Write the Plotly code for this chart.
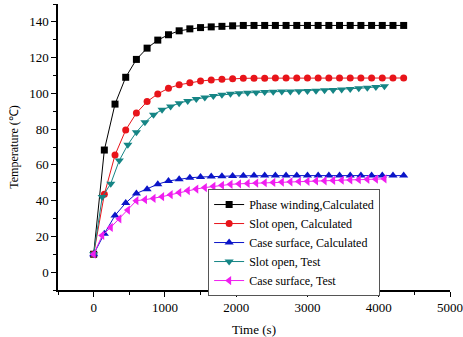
import plotly.graph_objects as go

# Time axes (s)
t_calc = [i * 150 for i in range(30)]   # 0 .. 4350
t_test = [i * 120 for i in range(35)]   # 0 .. 4080

phase_winding_calc = [10, 68.3, 94, 109, 119, 125.3, 129.8, 132.8, 135, 136.1,
                      136.8, 137.2, 137.5, 137.8, 138, 138, 138, 138, 138, 138,
                      138, 138, 138, 138, 138, 138, 138, 138, 138, 138]
slot_open_calc = [10, 43.5, 65.5, 79.5, 89, 95.4, 99.7, 102.9, 104.8, 106,
                  106.9, 107.5, 107.9, 108.2, 108.4, 108.5, 108.5, 108.6, 108.6, 108.6,
                  108.6, 108.6, 108.6, 108.6, 108.6, 108.6, 108.6, 108.6, 108.6, 108.6]
case_surface_calc = [10, 21.5, 31.7, 38.7, 44, 46.4, 49.2, 51, 52, 52.8,
                     53.2, 53.5, 53.7, 53.8, 53.9, 54, 54, 54, 54, 54,
                     54, 54, 54, 54, 54, 54, 54, 54, 54, 54]
slot_open_test = [10, 42, 49.5, 62.5, 71.3, 78.3, 83.8, 88.1, 90.8, 92.6,
                  94.5, 95.8, 96.9, 97.7, 98.6, 99.2, 99.8, 100.1, 100.3, 100.5,
                  100.7, 100.9, 101, 101.1, 101.2, 101.3, 101.5, 101.7, 101.9, 102.2,
                  102.5, 102.8, 103.2, 103.6, 104]
case_surface_test = [10, 20.5, 25, 29.8, 34.7, 40, 40.5, 41.2, 42.2, 43.3,
                     44.5, 45.6, 46.5, 47.3, 48, 48.6, 49.1, 49.4, 49.6, 49.8,
                     50, 50.2, 50.4, 50.5, 50.7, 50.8, 51, 51.1, 51.3, 51.4,
                     51.6, 51.7, 51.9, 52, 52.2]

x_ticks = [0, 1000, 2000, 3000, 4000, 5000]
y_ticks = [0, 20, 40, 60, 80, 100, 120, 140]

FONT = "Liberation Serif, Times New Roman, serif"

series = [
    ("Phase winding,Calculated", t_calc, phase_winding_calc, "#000000", "square", 7),
    ("Slot open, Calculated", t_calc, slot_open_calc, "#e8141a", "circle", 7),
    ("Case surface, Calculated", t_calc, case_surface_calc, "#0a14c8", "triangle-up", 8),
    ("Slot open, Test", t_test, slot_open_test, "#158585", "triangle-down", 8),
    ("Case surface, Test", t_test, case_surface_test, "#f01ef0", "triangle-left", 8),
]

fig = go.Figure()
for name, xs, ys, col, sym, sz in series:
    fig.add_trace(go.Scatter(
        x=xs, y=ys, name=name, mode="lines+markers",
        line=dict(color=col, width=1),
        marker=dict(color=col, symbol=sym, size=sz, line=dict(width=0)),
    ))

axis_common = dict(
    showline=True, linecolor="black", linewidth=1.5, mirror=False,
    ticks="outside", ticklen=5, tickwidth=1.2, tickcolor="black",
    showgrid=False, zeroline=False, automargin=False,
    tickfont=dict(family=FONT, size=13, color="black"),
)

fig.update_layout(
    width=463, height=337,
    margin=dict(l=58, r=13, t=4, b=47),
    paper_bgcolor="white", plot_bgcolor="white",
    font=dict(family=FONT, size=12, color="black"),
    xaxis=dict(range=[-500, 5000], tickvals=x_ticks,
               minor=dict(dtick=500, tick0=0, ticks="outside", ticklen=3, tickcolor="black"),
               title=dict(text="Time (s)", font=dict(family=FONT, size=13), standoff=11),
               **axis_common),
    yaxis=dict(range=[-10, 150], tickvals=y_ticks,
               minor=dict(dtick=10, tick0=0, ticks="outside", ticklen=3, tickcolor="black"),
               title=dict(text="Temperature (\u2103)", font=dict(family=FONT, size=12), standoff=8),
               **axis_common),
    legend=dict(x=0.383, y=0.353, xanchor="left", yanchor="top",
                bgcolor="white", bordercolor="#555555", borderwidth=1,
                font=dict(family=FONT, size=12, color="black"),
                tracegroupgap=0, itemwidth=30),
    showlegend=True,
)

fig.write_html("out.html",
               config={"displayModeBar": False},
               post_script="document.body.style.margin='0';document.body.style.overflow='hidden';")
